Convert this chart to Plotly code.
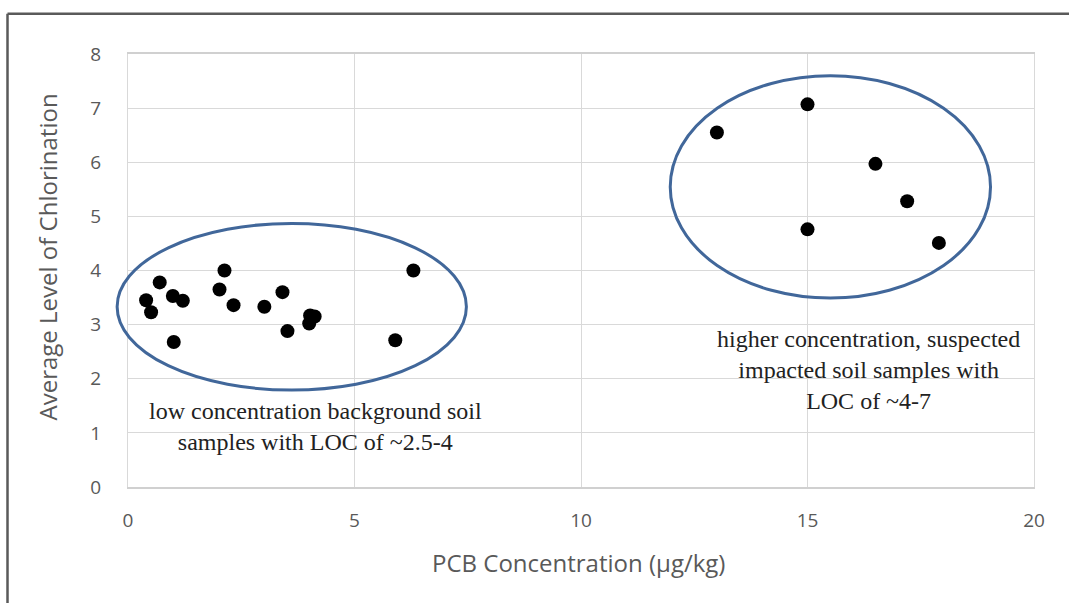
import plotly.graph_objects as go

# PCB concentration (µg/kg) and average level of chlorination per soil sample
pcb_conc = [0.40, 0.51, 0.70, 0.99, 1.21, 1.01, 2.13, 2.02, 2.33, 3.01, 3.41, 3.52,
            4.02, 4.12, 4.00, 6.30, 5.90,
            15.0, 13.0, 16.5, 17.2, 15.0, 17.9]
avg_loc = [3.45, 3.23, 3.78, 3.53, 3.44, 2.68, 4.00, 3.65, 3.36, 3.33, 3.60, 2.88,
           3.17, 3.15, 3.02, 4.00, 2.71,
           7.07, 6.55, 5.97, 5.28, 4.76, 4.51]

# Grouping ellipses (x0, x1, y0, y1) in data units
low_group = (-0.24, 7.47, 1.79, 4.87)
high_group = (11.97, 19.04, 3.49, 7.60)

low_label = "low concentration background soil<br>samples with LOC of ~2.5-4"
high_label = "higher concentration, suspected<br>impacted soil samples with<br>LOC of ~4-7"

x_ticks = [0, 5, 10, 15, 20]
y_ticks = [0, 1, 2, 3, 4, 5, 6, 7, 8]
x_range = [0, 20]
y_range = [0, 8]

fig = go.Figure()
fig.add_trace(go.Scatter(
    x=pcb_conc, y=avg_loc, mode="markers",
    marker=dict(color="black", size=14),
    showlegend=False,
))

# Ellipses are placed in paper units so they are not clipped at the axis edge
def to_paper_x(v):
    return (v - x_range[0]) / (x_range[1] - x_range[0])

def to_paper_y(v):
    return (v - y_range[0]) / (y_range[1] - y_range[0])

ell_color = "#41679a"
for x0, x1, y0, y1 in (low_group, high_group):
    fig.add_shape(type="circle", xref="paper", yref="paper",
                  x0=to_paper_x(x0), x1=to_paper_x(x1),
                  y0=to_paper_y(y0), y1=to_paper_y(y1),
                  line=dict(color=ell_color, width=3), layer="above")

note_font = dict(family="Liberation Serif", size=24, color="#222222")
fig.add_annotation(x=4.13, y=1.11, xref="x", yref="y", text=low_label,
                   showarrow=False, font=note_font, align="center")
fig.add_annotation(x=16.34, y=2.16, xref="x", yref="y", text=high_label,
                   showarrow=False, font=note_font, align="center")

# Axis titles
title_font = dict(family="Open Sans", size=24, color="#595959")
fig.add_annotation(x=0.497, y=-0.175, xref="paper", yref="paper",
                   xanchor="center", yanchor="middle",
                   text="PCB Concentration (µg/kg)", showarrow=False, font=title_font)
fig.add_annotation(x=-0.089, y=0.531, xref="paper", yref="paper",
                   xanchor="center", yanchor="middle",
                   text="Average Level of Chlorination", showarrow=False,
                   font=title_font, textangle=-90)

# Outer frame: left and top edges
frame = dict(color="#5a5a5a", width=2.5)
fig.add_shape(type="line", xref="paper", yref="paper", x0=-0.133, x1=-0.133,
              y0=-0.3, y1=1.093, line=frame)
fig.add_shape(type="line", xref="paper", yref="paper", x0=-0.133, x1=1.06,
              y0=1.093, y1=1.093, line=frame)

tick_font = dict(family="Open Sans", size=19, color="#595959")
fig.update_xaxes(range=x_range, tickvals=x_ticks, showgrid=True, gridcolor="#d9d9d9",
                 gridwidth=1, zeroline=False, showline=True, linecolor="#d0d0d0",
                 linewidth=1.5, mirror=True, ticks="", tickfont=tick_font,
                 ticklabelstandoff=15)
fig.update_yaxes(range=y_range, tickvals=y_ticks, showgrid=True, gridcolor="#d9d9d9",
                 gridwidth=1, zeroline=False, showline=True, linecolor="#d9d9d9",
                 linewidth=1, mirror=True, ticks="", tickfont=tick_font,
                 ticklabelstandoff=22)

fig.update_layout(
    width=1069, height=603,
    margin=dict(l=128, r=35, t=54, b=116),
    paper_bgcolor="white", plot_bgcolor="white",
)

fig.write_html("out.html")
